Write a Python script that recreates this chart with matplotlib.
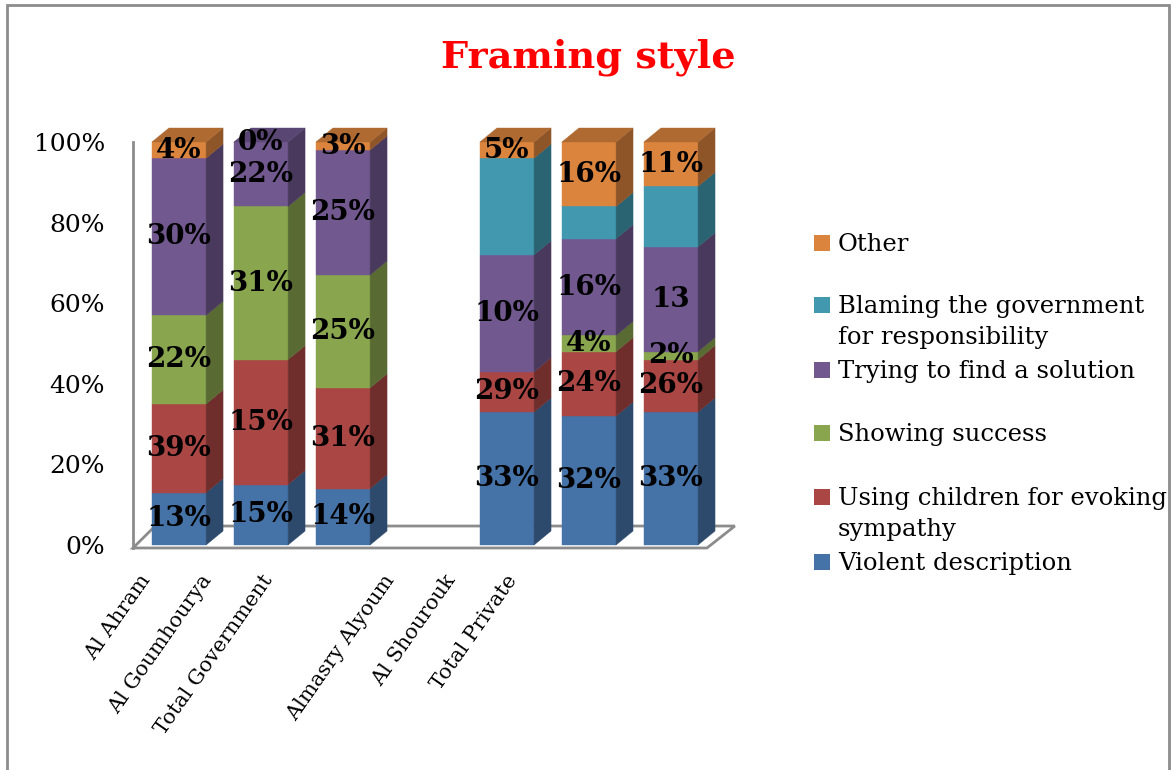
import numpy as np
import matplotlib
matplotlib.use("Agg")
import matplotlib.pyplot as plt
from matplotlib.patches import Rectangle, Polygon
from matplotlib.colors import to_rgb

plt.rcParams['font.family'] = ['DejaVu Serif']

# categories (gap between the government and private groups)
categories = ["Al Ahram", "Al Goumhourya", "Total Government",
              "Almasry Alyoum", "Al Shourouk", "Total Private"]
positions = [0, 1, 2, 4, 5, 6]

# series, bottom to top
series = ["Violent description",
          "Using children for evoking\nsympathy",
          "Showing success",
          "Trying to find a solution",
          "Blaming the government\nfor responsibility",
          "Other"]
colors = ["#4572A7", "#AA4643", "#89A54E", "#71588F", "#4198AF", "#DB843D"]

# segment heights (percent of bar) as drawn
violent = [13, 15, 14, 33, 32, 33]
children = [22, 31, 25, 10, 16, 13]
success = [22, 38, 28, 0, 4, 2]
solution = [39, 16, 31, 29, 24, 26]
blaming = [0, 0, 0, 24, 8, 15]
other = [4, 0, 2, 4, 16, 11]

# data labels as printed on the chart
violent_lbl = ["13%", "15%", "14%", "33%", "32%", "33%"]
children_lbl = ["39%", "15%", "31%", "29%", "24%", "26%"]
success_lbl = ["22%", "31%", "25%", None, "4%", "2%"]
solution_lbl = ["30%", "22%", "25%", "10%", "16%", "13"]
blaming_lbl = [None, None, None, None, None, None]
other_lbl = ["4%", "0%", "3%", "5%", "16%", "11%"]

values = [violent, children, success, solution, blaming, other]
labels = [violent_lbl, children_lbl, success_lbl, solution_lbl, blaming_lbl, other_lbl]

W, H = 1173, 770
fig = plt.figure(figsize=(W / 100, H / 100), dpi=100)

ax = fig.add_axes([133 / W, 1 - 545 / H, (736 - 133) / W, (545 - 142) / H])
ax.set_xlim(-0.561, 6.793)
ax.set_ylim(0, 100)
for s in ax.spines.values():
    s.set_visible(False)
ax.set_xticks([])
ax.set_yticks(range(0, 101, 20))
ax.set_yticklabels([f"{v}%" for v in range(0, 101, 20)], fontsize=18)
ax.tick_params(axis="y", length=0, pad=20)

grey = "#8C8C8C"
bw = 0.66            # bar width
dx = 17 / 82         # depth, x
dy = 14 * 100 / 403  # depth, y

# floor and wall line
xl, xr = -0.561, 6.439
yf, yb = -0.74, 4.71
ax.add_patch(Polygon([(xl, yf), (xr, yf), (xr + 0.34, yb), (xl + 0.27, yb)],
                     closed=True, fill=False, edgecolor=grey, lw=2, clip_on=False, zorder=1))
ax.plot([xl, xl], [yf, 100], color=grey, lw=2, clip_on=False, zorder=1)


def shade(c, f):
    r, g, b = to_rgb(c)
    return (r * f, g * f, b * f)


for j, x in enumerate(positions):
    bottom = 0
    for k in range(len(series)):
        v = values[k][j]
        if v <= 0:
            continue
        top = bottom + v
        x0, x1 = x - bw / 2, x + bw / 2
        ax.add_patch(Rectangle((x0, bottom), bw, v, facecolor=colors[k],
                               edgecolor=colors[k], lw=0.3, zorder=3, clip_on=False))
        ax.add_patch(Polygon([(x1, bottom), (x1, top), (x1 + dx, top + dy), (x1 + dx, bottom + dy)],
                             closed=True, facecolor=shade(colors[k], 0.65),
                             edgecolor=shade(colors[k], 0.65), lw=0.3, zorder=3, clip_on=False))
        if top >= 99.5:
            ax.add_patch(Polygon([(x0, top), (x1, top), (x1 + dx, top + dy), (x0 + dx, top + dy)],
                                 closed=True, facecolor=shade(colors[k], 0.8),
                                 edgecolor=shade(colors[k], 0.8), lw=0.3, zorder=3, clip_on=False))
        bottom = top

    # data labels
    bottom = 0
    for k in range(len(series)):
        v = values[k][j]
        lbl = labels[k][j]
        if lbl is not None:
            ax.text(x, bottom + v / 2, lbl, ha="center", va="center", fontsize=20,
                    fontweight="bold", color="black", zorder=5, clip_on=False)
        bottom += v

# category labels (spaced more tightly than the bars, as in the original)
for name, p in zip(categories, positions):
    ax.text(p * 0.745 - 0.49, -6.5, name, rotation=55, ha="right", va="top",
            rotation_mode="anchor", fontsize=15)

# legend, top to bottom
leg_y = [243, 305, 370, 433, 497, 562]
for k, y in zip(range(len(series) - 1, -1, -1), leg_y):
    fig.add_artist(Rectangle((814 / W, 1 - (y + 8) / H), 16 / W, 16 / H,
                             facecolor=colors[k], edgecolor="none", transform=fig.transFigure))
    for n, line in enumerate(series[k].split("\n")):
        fig.text(838 / W, 1 - (y + 8 + 31 * n) / H, line, ha="left", va="baseline",
                 fontsize=17.5)

fig.text(0.5017, 1 - 68 / H, "Framing style", ha="center", va="baseline",
         fontsize=27.5, fontweight="bold", color="#FF0000")

# outer border
fig.add_artist(Rectangle((7 / W, -0.01), (1169 - 7) / W, 1.01 - 5 / H,
                         fill=False, edgecolor=grey, lw=2, transform=fig.transFigure))

fig.savefig("out.png", dpi=100)
